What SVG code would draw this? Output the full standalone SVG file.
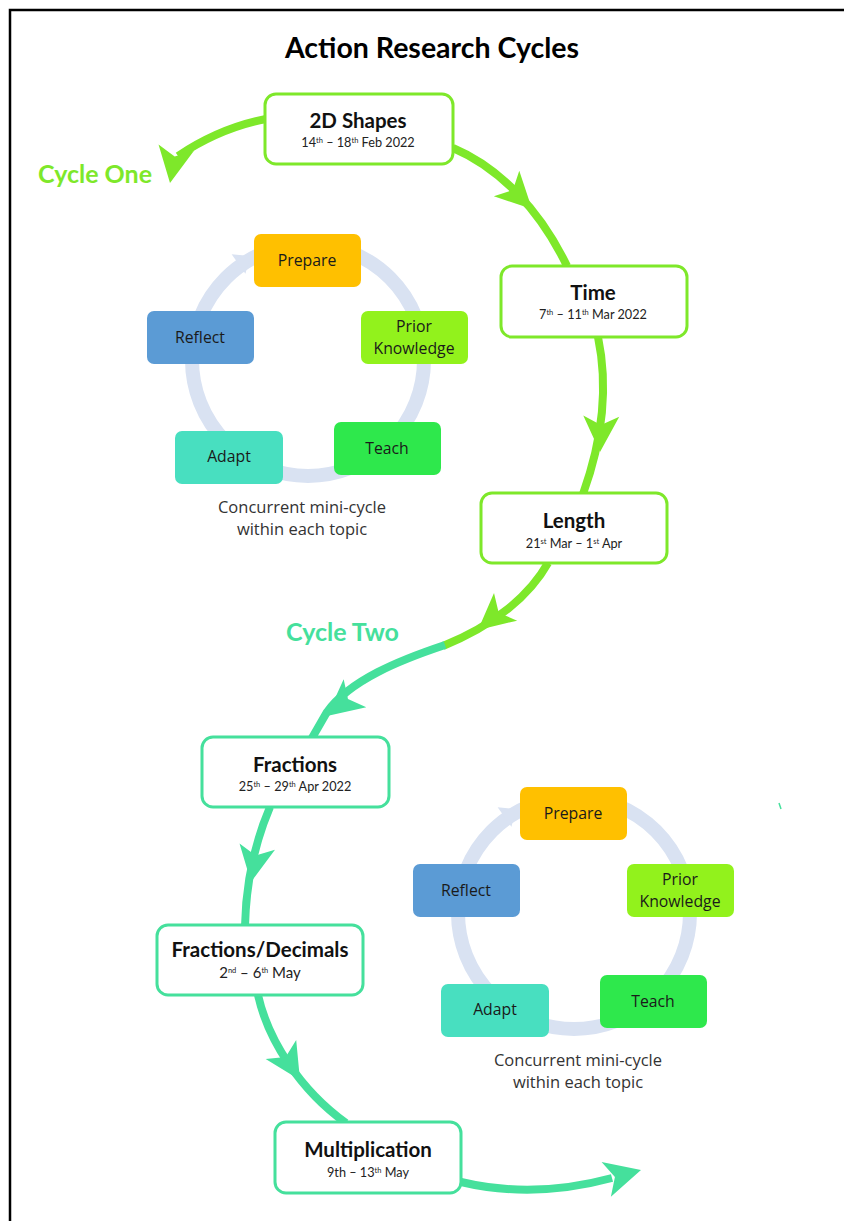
<svg xmlns="http://www.w3.org/2000/svg" xmlns:xlink="http://www.w3.org/1999/xlink" width="844" height="1221" viewBox="0 0 844 1221">
  <defs>
    <style>
      .title { font-family: Lato, "Liberation Sans", sans-serif; font-weight: 700; font-size: 28.5px; fill: #000; }
      .cycle-one { font-family: Lato, "Liberation Sans", sans-serif; font-weight: 700; font-size: 25px; fill: #7EE82A; }
      .cycle-two { font-family: Lato, "Liberation Sans", sans-serif; font-weight: 700; font-size: 25px; fill: #45E09C; }
      .topic-box { fill: #fff; stroke-width: 3; }
      .c1 { stroke: #7EE82A; }
      .c2 { stroke: #45E09C; }
      .topic { font-family: Lato, "Liberation Sans", sans-serif; font-weight: 700; font-size: 20.5px; fill: #111; text-anchor: middle; }
      .dates { font-family: Lato, "Liberation Sans", sans-serif; font-size: 12.7px; fill: #222; text-anchor: middle; }
      .sup { font-size: 7.5px; }
      .flow { fill: none; stroke-width: 8; }
      .flow1 { stroke: #7EE82A; }
      .flow2 { stroke: #45E09C; }
      .head1 { fill: #7EE82A; }
      .head2 { fill: #45E09C; }
      .ring { fill: none; stroke: #D9E2F2; stroke-width: 14; }
      .step { rx: 7; }
      .step-label { font-family: "Open Sans", "Liberation Sans", sans-serif; font-size: 15.8px; fill: #1a1a1a; text-anchor: middle; }
      .caption { font-family: "Open Sans", "Liberation Sans", sans-serif; font-size: 16.5px; fill: #333; text-anchor: middle; }
    </style>
    <!-- concave arrowhead pointing along +x, tip at origin -->
    <path id="head" d="M0,0 L-36,-18 L-27,0 L-36,18 Z"/>
    <!-- small arrowhead for the mini-cycle ring -->
    <path id="ring-head" d="M0,0 L-14,-12 L-14,12 Z"/>
  </defs>

  <rect width="844" height="1221" fill="#fff"/>
  <!-- page frame (left and top edges) -->
  <path d="M10,1221 V10 H844" fill="none" stroke="#000" stroke-width="2.5"/>

  <text class="title" x="432" y="58" text-anchor="middle">Action Research Cycles</text>
  <text class="cycle-one" x="38" y="183">Cycle One</text>
  <text class="cycle-two" x="286" y="641">Cycle Two</text>

  <!-- connectors -->
  <g id="connectors">
    <path class="flow flow1" d="M266,119 C235,125 205,138 178,156"/>
    <use href="#head" class="head1" transform="translate(170,183) rotate(100)"/>

    <path class="flow flow1" d="M453,148 C500,168 540,210 567,266"/>
    <use href="#head" class="head1" transform="translate(532,209) rotate(45)"/>

    <path class="flow flow1" d="M598,337 C607,380 606,430 583,494"/>
    <use href="#head" class="head1" transform="translate(600,452) rotate(92)"/>

    <path class="flow flow1" d="M548,563 C530,595 495,625 443,646"/>
    <use href="#head" class="head1" transform="translate(478,630) rotate(140)"/>

    <path class="flow flow2" d="M445,645 C400,660 350,680 327,712 L312,738"/>
    <use href="#head" class="head2" transform="translate(327,716) rotate(141)"/>

    <path class="flow flow2" d="M270,807 C256,840 246,880 245,926"/>
    <use href="#head" class="head2" transform="translate(251,882) rotate(100)"/>

    <path class="flow flow2" d="M258,995 C268,1040 300,1090 346,1123"/>
    <use href="#head" class="head2" transform="translate(300,1080) rotate(58)"/>

    <path class="flow flow2" d="M461,1182 C520,1196 575,1188 612,1178"/>
    <use href="#head" class="head2" transform="translate(641,1170) rotate(-15)"/>

    <path d="M779,803 L781,809" stroke="#45E09C" stroke-width="1.5"/>
  </g>

  <!-- topic nodes -->
  <g id="node-2d-shapes">
    <rect class="topic-box c1" x="265" y="94" width="188" height="70" rx="11"/>
    <text class="topic" x="358" y="128">2D Shapes</text>
    <text class="dates" x="358" y="147">14<tspan class="sup" dy="-4">th</tspan><tspan dy="4"> – 18</tspan><tspan class="sup" dy="-4">th</tspan><tspan dy="4"> Feb 2022</tspan></text>
  </g>
  <g id="node-time">
    <rect class="topic-box c1" x="501" y="266" width="186" height="71" rx="11"/>
    <text class="topic" x="593" y="300">Time</text>
    <text class="dates" x="593" y="319">7<tspan class="sup" dy="-4">th</tspan><tspan dy="4"> – 11</tspan><tspan class="sup" dy="-4">th</tspan><tspan dy="4"> Mar 2022</tspan></text>
  </g>
  <g id="node-length">
    <rect class="topic-box c1" x="481" y="493" width="186" height="70" rx="11"/>
    <text class="topic" x="574" y="528">Length</text>
    <text class="dates" x="574" y="548">21<tspan class="sup" dy="-4">st</tspan><tspan dy="4"> Mar – 1</tspan><tspan class="sup" dy="-4">st</tspan><tspan dy="4"> Apr</tspan></text>
  </g>
  <g id="node-fractions">
    <rect class="topic-box c2" x="202" y="737" width="187" height="70" rx="11"/>
    <text class="topic" x="295" y="772">Fractions</text>
    <text class="dates" x="295" y="791">25<tspan class="sup" dy="-4">th</tspan><tspan dy="4"> – 29</tspan><tspan class="sup" dy="-4">th</tspan><tspan dy="4"> Apr 2022</tspan></text>
  </g>
  <g id="node-fractions-decimals">
    <rect class="topic-box c2" x="157" y="925" width="206" height="70" rx="11"/>
    <text class="topic" x="260" y="957">Fractions/Decimals</text>
    <text class="dates" x="260" y="978" style="font-size:15px">2<tspan class="sup" dy="-5">nd</tspan><tspan dy="5"> – 6</tspan><tspan class="sup" dy="-5">th</tspan><tspan dy="5"> May</tspan></text>
  </g>
  <g id="node-multiplication">
    <rect class="topic-box c2" x="275" y="1122" width="186" height="71" rx="11"/>
    <text class="topic" x="368" y="1157">Multiplication</text>
    <text class="dates" x="368" y="1177">9th – 13<tspan class="sup" dy="-4">th</tspan><tspan dy="4"> May</tspan></text>
  </g>

  <!-- mini-cycle within each topic (first) -->
  <g id="mini-cycle-one">
    <circle class="ring" cx="308" cy="360" r="116"/>
    <use href="#ring-head" fill="#D9E2F2" transform="translate(250,256) rotate(-35)"/>
    <g id="m1-prepare">
      <rect class="step" x="254" y="234" width="107" height="53" fill="#FFC000"/>
      <text class="step-label" x="307" y="266">Prepare</text>
    </g>
    <g id="m1-prior-knowledge">
      <rect class="step" x="361" y="311" width="107" height="53" fill="#92F21C"/>
      <text class="step-label" x="414" y="332">Prior</text>
      <text class="step-label" x="414" y="354">Knowledge</text>
    </g>
    <g id="m1-teach">
      <rect class="step" x="334" y="422" width="107" height="53" fill="#2EE84C"/>
      <text class="step-label" x="387" y="454">Teach</text>
    </g>
    <g id="m1-adapt">
      <rect class="step" x="175" y="431" width="108" height="53" fill="#48DFC0"/>
      <text class="step-label" x="229" y="462">Adapt</text>
    </g>
    <g id="m1-reflect">
      <rect class="step" x="147" y="311" width="107" height="53" fill="#5B9BD5"/>
      <text class="step-label" x="200" y="343">Reflect</text>
    </g>
    <text class="caption" x="302" y="513">Concurrent mini-cycle</text>
    <text class="caption" x="302" y="535">within each topic</text>
  </g>

  <!-- mini-cycle within each topic (second) -->
  <g id="mini-cycle-two" transform="translate(266,553)">
    <circle class="ring" cx="308" cy="360" r="116"/>
    <use href="#ring-head" fill="#D9E2F2" transform="translate(250,256) rotate(-35)"/>
    <g id="m2-prepare">
      <rect class="step" x="254" y="234" width="107" height="53" fill="#FFC000"/>
      <text class="step-label" x="307" y="266">Prepare</text>
    </g>
    <g id="m2-prior-knowledge">
      <rect class="step" x="361" y="311" width="107" height="53" fill="#92F21C"/>
      <text class="step-label" x="414" y="332">Prior</text>
      <text class="step-label" x="414" y="354">Knowledge</text>
    </g>
    <g id="m2-teach">
      <rect class="step" x="334" y="422" width="107" height="53" fill="#2EE84C"/>
      <text class="step-label" x="387" y="454">Teach</text>
    </g>
    <g id="m2-adapt">
      <rect class="step" x="175" y="431" width="108" height="53" fill="#48DFC0"/>
      <text class="step-label" x="229" y="462">Adapt</text>
    </g>
    <g id="m2-reflect">
      <rect class="step" x="147" y="311" width="107" height="53" fill="#5B9BD5"/>
      <text class="step-label" x="200" y="343">Reflect</text>
    </g>
    <text class="caption" x="312" y="513">Concurrent mini-cycle</text>
    <text class="caption" x="312" y="535">within each topic</text>
  </g>
</svg>
